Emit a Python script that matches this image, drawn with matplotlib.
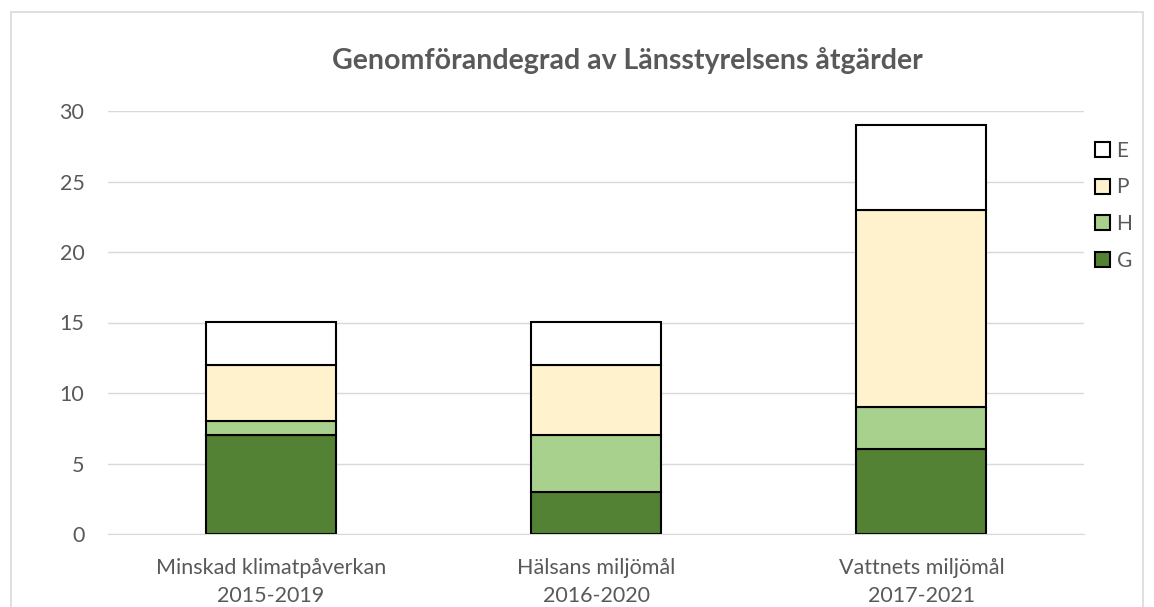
import matplotlib.pyplot as plt
from matplotlib.patches import Rectangle, Patch
import numpy as np

plt.rcParams['font.family'] = ['Lato', 'DejaVu Sans']

# data
kategorier = ['Minskad klimatpåverkan\n2015-2019', 'Hälsans miljömål\n2016-2020', 'Vattnets miljömål\n2017-2021']
G = [7, 3, 6]
H = [1, 4, 3]
P = [4, 5, 14]
E = [3, 3, 6]

serier = [('G', G, '#548235'), ('H', H, '#A9D18E'), ('P', P, '#FFF2CC'), ('E', E, '#FFFFFF')]

fig = plt.figure(figsize=(11.54, 6.07), dpi=100)
ax = fig.add_axes([108/1154, 1 - 534/607, (1084 - 108)/1154, (534 - 111)/607])

x = np.arange(len(kategorier))
botten = np.zeros(len(kategorier))
for namn, vals, farg in serier:
    ax.bar(x, vals, bottom=botten, width=0.40, color=farg, edgecolor='black', linewidth=1.5, zorder=3, label=namn)
    botten += np.array(vals)

ax.set_xlim(-0.5, 2.5)
ax.set_ylim(0, 30)
ax.set_yticks(range(0, 31, 5))
ax.set_xticks(x)
ax.set_xticklabels(kategorier, fontsize=15.5, color='#595959', linespacing=1.5)
ax.tick_params(axis='y', labelsize=15.5, labelcolor='#595959', length=0, pad=17)
ax.tick_params(axis='x', length=0, pad=17)
ax.grid(axis='y', color='#D9D9D9', linewidth=1, zorder=0)
for s in ['top', 'right', 'left']:
    ax.spines[s].set_visible(False)
ax.spines['bottom'].set_color('#D9D9D9')
ax.spines['bottom'].set_zorder(4)

fig.text(0.5 + 50/1154, 1 - 61/607, 'Genomförandegrad av Länsstyrelsens åtgärder',
         ha='center', va='center', fontsize=20.5, fontweight='bold', color='#595959')

handles = [Patch(facecolor=c, edgecolor='black', linewidth=1.5, label=n) for n, v, c in serier[::-1]]
fig.legend(handles=handles, loc='upper left', bbox_to_anchor=(1076/1154, 1 - 122/607),
           frameon=False, fontsize=15, labelcolor='#595959', handlelength=0.75, handleheight=0.75,
           handletextpad=0.3, labelspacing=0.8)

# ramen runt diagrammet
fig.patches.append(Rectangle((11/1154, -0.1), (1143 - 11)/1154, 1.1 - 12/607, transform=fig.transFigure,
                             fill=False, edgecolor='#D9D9D9', linewidth=1.2))

fig.savefig('out.png', dpi=100)
